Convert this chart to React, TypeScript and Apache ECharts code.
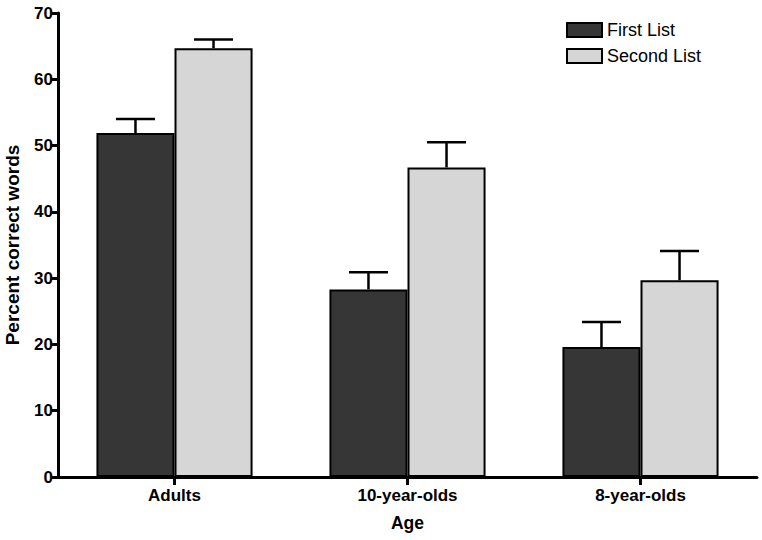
import React, { useEffect, useRef } from "react";
import * as echarts from "echarts";

const categories = ["Adults", "10-year-olds", "8-year-olds"];
const seriesNames = ["First List", "Second List"];
const firstList = [51.9, 28.3, 19.6];
const secondList = [64.7, 46.7, 29.7];
const firstListErrTop = [54.0, 30.9, 23.4];
const secondListErrTop = [66.0, 50.5, 34.1];
const yTicks = { min: 0, max: 70, interval: 10 };

const CAT_GAP = 0.33;

export default function App() {
  const ref = useRef<HTMLDivElement>(null);
  useEffect(() => {
    if (!ref.current) return;
    const chart = echarts.init(ref.current, undefined, { renderer: "svg" });
    const errData: any[] = [];
    categories.forEach((c, i) => {
      errData.push([i, firstList[i], firstListErrTop[i], 0]);
      errData.push([i, secondList[i], secondListErrTop[i], 1]);
    });
    const font = "Liberation Sans, Arial, sans-serif";
    chart.setOption({
      animation: false,
      textStyle: { fontFamily: font },
      grid: { left: 58, right: 5, top: 13, bottom: 63, containLabel: false, outerBoundsMode: "none" },
      legend: {
        orient: "vertical",
        left: 561,
        top: 16,
        itemWidth: 35,
        itemHeight: 14,
        itemGap: 8,
        icon: "rect",
        data: seriesNames,
        textStyle: { fontSize: 18, color: "#000", fontFamily: font },
      },
      xAxis: {
        type: "category",
        data: categories,
        name: "Age",
        nameLocation: "middle",
        nameGap: 37,
        nameTextStyle: { fontSize: 17.5, fontWeight: "bold", color: "#000", fontFamily: font },
        axisLine: { lineStyle: { color: "#000", width: 3 } },
        axisTick: { show: true, alignWithLabel: true, length: 8, lineStyle: { color: "#000", width: 3 } },
        axisLabel: { fontSize: 17, fontWeight: "bold", color: "#000", margin: 10, fontFamily: font },
      },
      yAxis: {
        type: "value",
        min: yTicks.min,
        max: yTicks.max,
        interval: yTicks.interval,
        name: "Percent correct words",
        nameLocation: "middle",
        nameGap: 36,
        nameTextStyle: { fontSize: 19, fontWeight: "bold", color: "#000", fontFamily: font },
        axisLine: { show: true, lineStyle: { color: "#000", width: 3 } },
        axisTick: { show: true, length: 6, lineStyle: { color: "#000", width: 3 } },
        axisLabel: { fontSize: 17, fontWeight: "bold", color: "#000", margin: 5, fontFamily: font },
        splitLine: { show: false },
      },
      series: [
        {
          name: seriesNames[0],
          type: "bar",
          data: firstList,
          barGap: "0%",
          barCategoryGap: CAT_GAP * 100 + "%",
          itemStyle: { color: "#363636", borderColor: "#000", borderWidth: 2 },
        },
        {
          name: seriesNames[1],
          type: "bar",
          data: secondList,
          barGap: "0%",
          barCategoryGap: CAT_GAP * 100 + "%",
          itemStyle: { color: "#d6d6d6", borderColor: "#000", borderWidth: 2 },
        },
        {
          type: "custom",
          data: errData,
          z: 1,
          silent: true,
          renderItem: (params: any, api: any) => {
            const ci = api.value(0);
            const low = api.value(1);
            const high = api.value(2);
            const si = api.value(3);
            const band = api.size([1, 0])[0];
            const bw = (band * (1 - CAT_GAP)) / 2;
            const c0 = api.coord([ci, low]);
            const c1 = api.coord([ci, high]);
            const cx = c0[0] + (si === 0 ? -bw / 2 : bw / 2);
            const half = bw / 4;
            const st = { stroke: "#000", lineWidth: 2.5 };
            return {
              type: "group",
              children: [
                { type: "line", shape: { x1: cx, y1: c0[1], x2: cx, y2: c1[1] }, style: st },
                { type: "line", shape: { x1: cx - half, y1: c1[1], x2: cx + half, y2: c1[1] }, style: st },
              ],
            };
          },
        },
      ],
    });
    return () => chart.dispose();
  }, []);
  return <div ref={ref} style={{ width: 762, height: 540, position: "absolute", left: 0, top: 0 }} />;
}
